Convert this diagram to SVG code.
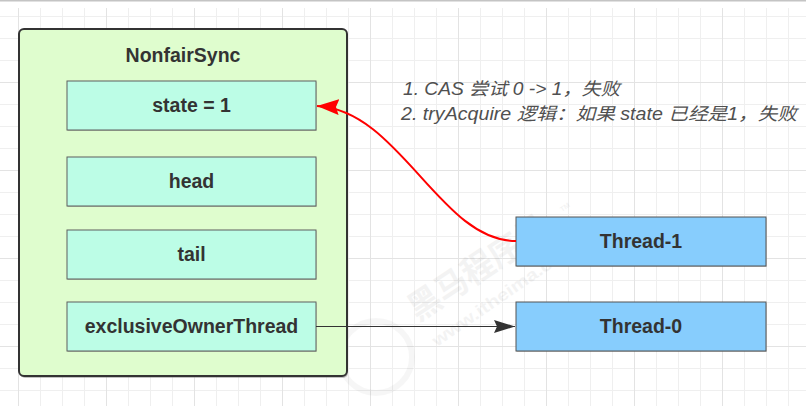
<svg xmlns="http://www.w3.org/2000/svg" width="806" height="406" viewBox="0 0 806 406">
  <style>
    .lbl { font-family: "Liberation Sans", Arial, sans-serif; font-weight: bold; font-size: 19.5px; fill: #333333; text-anchor: middle; }
    .field { fill: #bcfde6; stroke: #5f5f5f; stroke-width: 1; }
    .thread { fill: #87cdfd; stroke: #555555; stroke-width: 1; }
    .shadow { fill: #777777; opacity: 0.45; }
    .note { font-family: "Liberation Sans", "Noto Sans CJK SC", sans-serif; font-style: italic; font-size: 17.5px; fill: #505050; }
    .wm { font-family: "Liberation Sans", "Noto Sans CJK SC", sans-serif; font-weight: bold; fill: #000000; opacity: 0.045; }
  </style>
  <defs>
    <pattern id="gridMinor" patternUnits="userSpaceOnUse" x="18" y="16" width="22" height="22">
      <path d="M0.5,0 V22 M0,0.5 H22" fill="none" stroke="#efefef" stroke-width="1"/>
    </pattern>
    <pattern id="gridMajor" patternUnits="userSpaceOnUse" x="18" y="-6" width="88" height="88">
      <path d="M0.5,0 V88 M0,0.5 H88" fill="none" stroke="#e3e3e3" stroke-width="1"/>
    </pattern>
    <marker id="arrowDark" markerUnits="userSpaceOnUse" markerWidth="22" markerHeight="14" refX="21" refY="6.5" orient="auto">
      <path d="M0,0 L21,6.5 L0,13 L3,6.5 z" fill="#333333"/>
    </marker>
    <marker id="arrowRed" markerUnits="userSpaceOnUse" markerWidth="24" markerHeight="18" refX="22" refY="8" orient="auto">
      <path d="M0,0 L22,8 L0,16 L3,8 z" fill="#ff0000"/>
    </marker>
  </defs>

  <!-- background grid -->
  <g id="background">
    <rect x="0" y="0" width="806" height="406" fill="#ffffff"/>
    <rect x="0" y="8" width="806" height="398" fill="url(#gridMinor)"/>
    <rect x="0" y="8" width="806" height="398" fill="url(#gridMajor)"/>
    <rect x="0" y="0" width="806" height="1.5" fill="#c4c4c4"/>
  </g>

  <!-- watermark -->
  <g id="watermark">
    <circle cx="376" cy="357" r="36" fill="none" stroke="#000000" stroke-width="6" opacity="0.035"/>
    <text class="wm" font-size="34" transform="translate(418,322) rotate(-33.5)" textLength="160" lengthAdjust="spacingAndGlyphs">黑马程序员</text>
    <text class="wm" font-size="17" font-weight="normal" transform="translate(437,347) rotate(-34.5)" textLength="172" lengthAdjust="spacingAndGlyphs">www.itheima.com</text>
    <text class="wm" font-size="7" transform="translate(562,212) rotate(-34)">TM</text>
  </g>

  <!-- NonfairSync container -->
  <g id="NonfairSync">
    <rect class="shadow" x="20" y="31" width="328" height="347" rx="5"/>
    <rect x="19" y="29" width="328" height="347" rx="5" fill="#dffdce" stroke="#333333" stroke-width="2"/>
    <text class="lbl" x="183" y="62">NonfairSync</text>
  </g>

  <g id="state">
    <rect class="shadow" x="67.5" y="82" width="249" height="49"/>
    <rect class="field" x="67" y="81" width="249" height="49"/>
    <text class="lbl" x="191.5" y="112">state = 1</text>
  </g>

  <g id="head">
    <rect class="shadow" x="67.5" y="158" width="249" height="49"/>
    <rect class="field" x="67" y="157" width="249" height="49"/>
    <text class="lbl" x="191.5" y="188">head</text>
  </g>

  <g id="tail">
    <rect class="shadow" x="67.5" y="231" width="249" height="49"/>
    <rect class="field" x="67" y="230" width="249" height="49"/>
    <text class="lbl" x="191.5" y="261">tail</text>
  </g>

  <g id="exclusiveOwnerThread">
    <rect class="shadow" x="67.5" y="303" width="249" height="49"/>
    <rect class="field" x="67" y="302" width="249" height="49"/>
    <text class="lbl" x="191.5" y="333">exclusiveOwnerThread</text>
  </g>

  <g id="Thread-1">
    <rect class="shadow" x="516.5" y="218" width="250" height="49"/>
    <rect class="thread" x="516" y="217" width="250" height="49"/>
    <text class="lbl" x="641" y="247.5">Thread-1</text>
  </g>

  <g id="Thread-0">
    <rect class="shadow" x="516.5" y="303" width="250" height="49"/>
    <rect class="thread" x="516" y="302" width="250" height="49"/>
    <text class="lbl" x="641" y="333">Thread-0</text>
  </g>

  <g id="annotation">
    <text class="note" x="403" y="95" textLength="217" lengthAdjust="spacingAndGlyphs">1. CAS 尝试 0 -&gt; 1，失败</text>
    <text class="note" x="401" y="119.5" textLength="396" lengthAdjust="spacingAndGlyphs">2. tryAcquire 逻辑：如果 state 已经是1，失败</text>
  </g>

  <!-- connectors -->
  <g id="connectors">
    <path d="M516,241 C440,241 400,110 317,106" fill="none" stroke="#ff0000" stroke-width="2" marker-end="url(#arrowRed)"/>
    <path d="M316,326.5 H515" fill="none" stroke="#333333" stroke-width="1" marker-end="url(#arrowDark)"/>
  </g>
</svg>
